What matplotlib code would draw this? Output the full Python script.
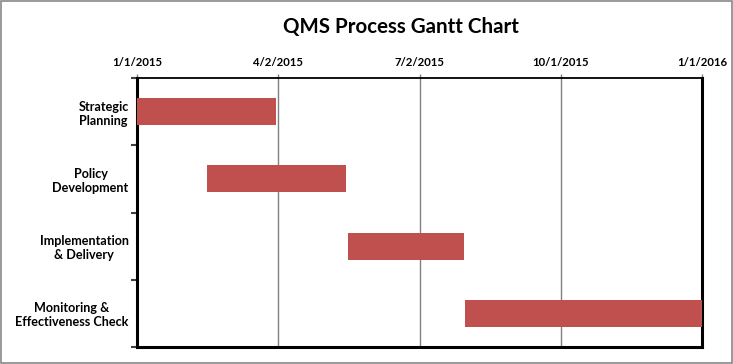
import pandas as pd
import numpy as np
import matplotlib
matplotlib.use('Agg')
import matplotlib.pyplot as plt

tasks = ['Strategic\nPlanning', 'Policy\nDevelopment', 'Implementation\n& Delivery',
         'Monitoring &\nEffectiveness Check']
starts = ['2015-01-01', '2015-02-15', '2015-05-17', '2015-08-01']
ends = ['2015-04-01', '2015-05-16', '2015-07-31', '2016-01-01']
tick_labels = ['1/1/2015', '4/2/2015', '7/2/2015', '10/1/2015', '1/1/2016']

axis_min = pd.Timestamp('2015-01-01')
axis_max = pd.Timestamp('2016-01-01')

start_days = np.array([(pd.Timestamp(s) - axis_min).days for s in starts])
end_days = np.array([(pd.Timestamp(e) - axis_min).days for e in ends])
span = (axis_max - axis_min).days

plt.rcParams['font.family'] = ['Lato', 'DejaVu Sans']

fig = plt.figure(figsize=(7.33, 3.64), dpi=100)
ax = fig.add_axes([137/733, 1 - 347/364, 565/733, 269/364])

ypos = np.arange(len(tasks))
ax.barh(ypos, end_days - start_days, left=start_days, height=0.4, color='#C0504D', zorder=3)

ax.set_xlim(0, span)
ax.set_ylim(len(tasks) - 0.5, -0.5)

ticks = np.linspace(0, span, len(tick_labels))
ax.set_xticks(ticks)
ax.set_xticklabels(tick_labels, fontsize=8.2, fontweight='bold')
ax.xaxis.tick_top()
ax.tick_params(axis='x', length=3, width=1, color='#808080', pad=4)
ax.grid(axis='x', color='#808080', linewidth=1, zorder=0)

# category labels between boundary ticks
ax.set_yticks(np.arange(len(tasks) + 1) - 0.5)
ax.set_yticklabels([])
ax.set_yticks(ypos, minor=True)
ax.set_yticklabels(tasks, minor=True, fontsize=9.1, fontweight='bold', multialignment='center')
ax.tick_params(axis='y', which='major', length=4, width=1.5, color='#404040')
ax.tick_params(axis='y', which='minor', length=0, pad=6)

for side in ['left', 'bottom', 'right']:
    ax.spines[side].set_linewidth(2.2)
    ax.spines[side].set_color('black')
ax.spines['top'].set_linewidth(1.3)

fig.text(401/733, 1 - 27/364, 'QMS Process Gantt Chart', ha='center', va='center',
         fontsize=14.8, fontweight='bold')

fig.patches.append(plt.Rectangle((0.0007, 0.0014), 0.9986, 0.9972, transform=fig.transFigure,
                                 fill=False, edgecolor='#888888', linewidth=1.2))

fig.savefig('out.png', dpi=100)
